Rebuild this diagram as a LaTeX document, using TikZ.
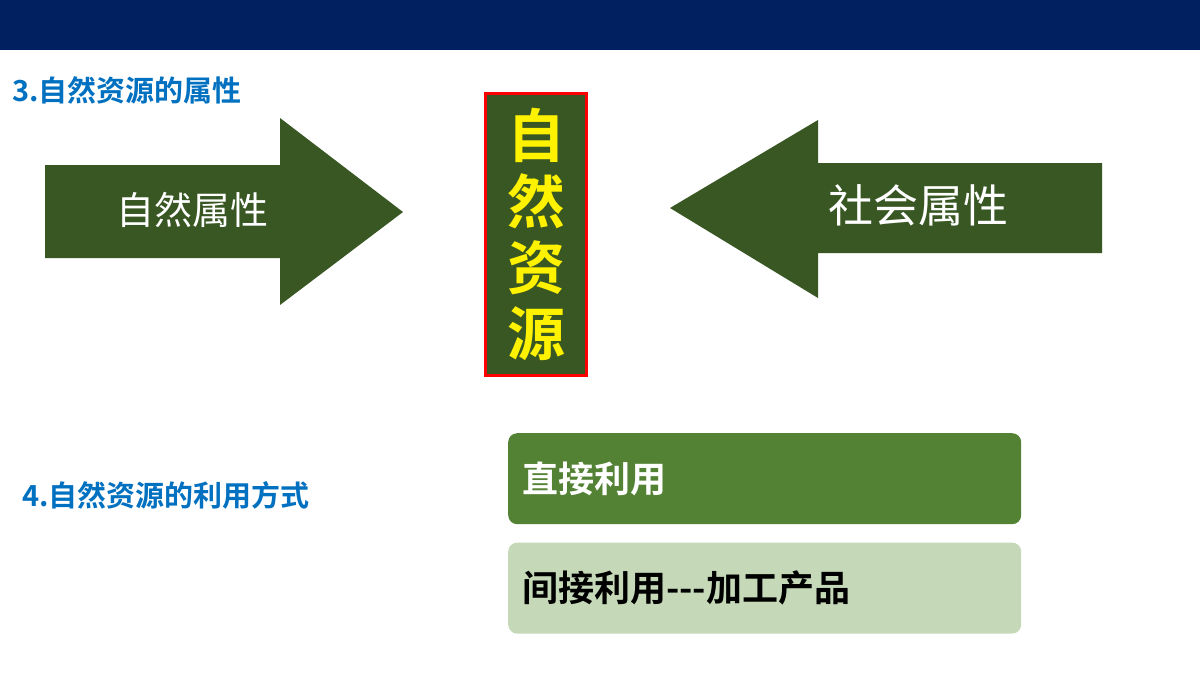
\documentclass[tikz,border=0pt]{standalone}
\usepackage{fontspec}
\usetikzlibrary{positioning}
\newfontfamily\cjk{Noto Sans CJK SC}
\newfontfamily\cjkb{Noto Sans CJK SC Bold}
\definecolor{topBar}{RGB}{0,32,96}
\definecolor{titleBlue}{RGB}{0,112,192}
\definecolor{arrowGreen}{RGB}{56,87,35}
\definecolor{useGreen}{RGB}{84,130,53}
\definecolor{useLight}{RGB}{197,217,184}
\tikzset{
  heading/.style={anchor=west,inner sep=0pt,text=titleBlue,font=\cjkb\fontsize{29}{30}\selectfont},
  bigarrow/.style={fill=arrowGreen,draw=none},
  usebox/.style={rounded corners=9pt,minimum width=513pt,minimum height=91pt,anchor=north west,
    text width=485pt,align=left,font=\cjkb\fontsize{36}{38}\selectfont}
}
\begin{document}
\begin{tikzpicture}[x=1pt,y=-1pt]
  \useasboundingbox (0,0) rectangle (1200,675);
  \fill[white] (0,0) rectangle (1200,675);
  \fill[topBar] (0,0) rectangle (1200,50);

  % headings
  \node[heading] (h3) at (12,90) {3.自然资源的属性};
  \node[heading] (h4) at (22,495) {4.自然资源的利用方式};

  % the two arrows
  \fill[bigarrow] (45,165) -- (280,165) -- (280,118) -- (403,212) -- (280,305) -- (280,258) -- (45,258) -- cycle;
  \node[text=white,font=\cjk\fontsize{38}{40}\selectfont] (nat) at (192,210) {自然属性};
  \fill[bigarrow] (1102,163) -- (818,163) -- (818,120) -- (670,208) -- (818,298) -- (818,253) -- (1102,253) -- cycle;
  \node[text=white,font=\cjk\fontsize{45}{47}\selectfont] (soc) at (918,205) {社会属性};

  % the resource box
  \node[draw=red,line width=2.5pt,fill=arrowGreen,minimum width=101pt,minimum height=282pt,
    text=yellow,align=center,font=\cjkb\fontsize{58}{66}\selectfont] (res) at (536,234.5)
    {自\\然\\资\\源};

  % ways of use
  \node[usebox,fill=useGreen,text=white] (direct) at (508,433) {直接利用};
  \node[usebox,fill=useLight,text=black,below=18pt of direct.south west,anchor=north west] (indirect) {间接利用---加工产品};
\end{tikzpicture}
\end{document}
